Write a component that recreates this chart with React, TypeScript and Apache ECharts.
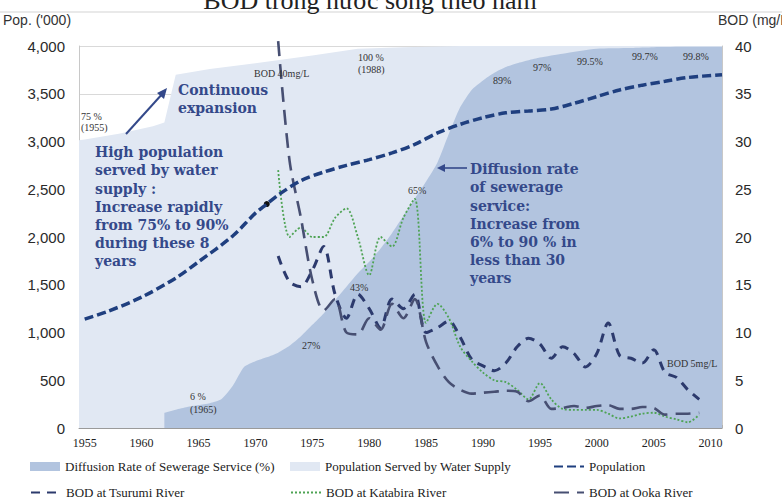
import React, { useEffect, useRef } from 'react';
import * as echarts from 'echarts';

// ---- data ----
const popYears = [1955, 1957, 1960, 1963, 1965, 1968, 1970, 1971, 1972, 1974, 1976, 1978, 1980, 1982, 1984, 1986, 1988, 1990, 1992, 1994, 1996, 1998, 2000, 2002, 2004, 2006, 2008, 2011];
const popValues = [1140, 1220, 1370, 1570, 1740, 2010, 2250, 2345, 2440, 2590, 2680, 2750, 2810, 2880, 2970, 3090, 3180, 3250, 3300, 3320, 3340, 3400, 3470, 3540, 3590, 3630, 3670, 3700];

const waterYears = [1954.5, 1955, 1958, 1961, 1962, 1963, 1966, 1970, 1975, 1979, 1983, 1988, 2011];
const waterPct = [75.3, 75.5, 77, 79, 80, 92.5, 94, 95.5, 97.5, 99.3, 99.7, 100, 100];

const sewerYears = [1962, 1963, 1964, 1965, 1966, 1967, 1968, 1969, 1970, 1971, 1972, 1973, 1974, 1975, 1976, 1977, 1978, 1979, 1980, 1981, 1982, 1983, 1984, 1985, 1986, 1987, 1988, 1989, 1990, 1991, 1992, 1993, 1994, 1995, 1997, 2000, 2003, 2005, 2008, 2011];
const sewerPct = [4, 4.8, 5.5, 6, 6.5, 7.5, 11, 16, 17.5, 18.5, 19.7, 21.5, 24, 27, 30, 33.5, 37, 40.5, 43.5, 47, 51, 55.5, 60, 64.5, 69.5, 77, 84, 88.5, 91, 93, 94.5, 95.5, 96.3, 97, 98, 99.3, 99.5, 99.7, 99.8, 99.8];

const bodYears = [1972, 1973, 1974, 1975, 1976, 1977, 1978, 1979, 1980, 1981, 1982, 1983, 1984, 1985, 1986, 1987, 1988, 1989, 1990, 1991, 1992, 1993, 1994, 1995, 1996, 1997, 1998, 1999, 2000, 2001, 2002, 2003, 2004, 2005, 2006, 2007, 2008, 2009];
const tsurumiBod = [18, 15.3, 14.8, 16.5, 19, 14, 11.5, 14, 12.5, 10.5, 13.5, 12.5, 14, 10, 10.5, 11.2, 9.5, 7.2, 6.5, 6.0, 6.8, 8.5, 9.4, 8.8, 7.3, 8.5, 7.8, 6.4, 7.8, 11.0, 7.6, 7.3, 6.8, 8.2, 5.8, 5.3, 4.0, 3.0];
const katabiraBod = [27, 20, 21, 20, 20, 22, 23, 20, 16, 20, 19, 22, 24, 11, 13, 11.5, 8.5, 7, 5.8, 5, 4.8, 4, 3, 4.7, 3, 2, 1.9, 1.9, 1.9, 1.5, 1.0, 1.2, 1.5, 1.6, 1.2, 0.9, 0.6, 1.4];
const ookaBod = [40.5, 28, 22, 15.5, 12.3, 13.5, 10, 9.8, 11.5, 10.3, 13, 11.5, 13.5, 9, 6.5, 4.8, 4.0, 3.6, 3.7, 3.8, 3.9, 3.8, 2.8, 3.4, 2.0, 2.1, 2.3, 2.1, 2.3, 2.4, 2.0, 2.0, 2.2, 2.1, 1.4, 1.5, 1.5, 1.6];

const NAME_SEWER = 'Diffusion Rate of Sewerage Service (%)';
const NAME_WATER = 'Population Served by Water Supply';
const NAME_POP = 'Population';
const NAME_TSU = 'BOD at Tsurumi River';
const NAME_KAT = 'BOD at Katabira River';
const NAME_OOKA = 'BOD at Ooka River';

const pairs = (xs: number[], ys: number[]) => xs.map((x, i) => [x, ys[i]]);

const SERIF = "'Liberation Serif', serif";
const SANS = "'Liberation Sans', sans-serif";
const BOLDSERIF = "'DejaVu Serif', serif";
const NOTE = '#34498a';

function smallText(x: number, y: number, text: string, lh = 12) {
  return {
    type: 'text', x, y, z: 100,
    style: { text, fill: '#333', fontFamily: SERIF, fontSize: 10, align: 'left', verticalAlign: 'top', lineHeight: lh },
  };
}
function boldNote(x: number, y: number, text: string) {
  return {
    type: 'text', x, y, z: 100,
    style: { text, fill: NOTE, fontFamily: BOLDSERIF, fontWeight: 'bold', fontSize: 14, align: 'left', verticalAlign: 'top', lineHeight: 18.2 },
  };
}

export default function App() {
  const ref = useRef<HTMLDivElement>(null);
  useEffect(() => {
    if (!ref.current) return;
    const chart = echarts.init(ref.current, null, { renderer: 'svg' });
    const legendBase = (left: number, top: number, name: string, extra: any = {}) => ({
      left, top, data: [name], itemWidth: 30, itemHeight: 10, itemGap: 0, padding: 0,
      textStyle: { fontFamily: SERIF, fontSize: 13, color: '#222' },
      selectedMode: false, ...extra,
    });
    const lineLegend = { itemStyle: { opacity: 0 } };
    chart.setOption({
      animation: false,
      backgroundColor: '#ffffff',
      grid: { left: 79, top: 46, width: 643, height: 382, containLabel: false },
      legend: [
        legendBase(30, 460, NAME_SEWER, { icon: 'rect', itemHeight: 9 }),
        legendBase(290, 460, NAME_WATER, { icon: 'rect', itemHeight: 9 }),
        legendBase(553, 460, NAME_POP, lineLegend),
        legendBase(30, 486, NAME_TSU, lineLegend),
        legendBase(290, 486, NAME_KAT, lineLegend),
        legendBase(553, 486, NAME_OOKA, lineLegend),
      ],
      xAxis: {
        type: 'value', min: 1954.5, max: 2011, splitNumber: 11,
        axisLine: { show: true, lineStyle: { color: '#9a9a9a' } },
        axisTick: { show: true, inside: true, length: 3, lineStyle: { color: '#b0b0b0' } },
        splitLine: { show: false },
        axisLabel: {
          fontFamily: SERIF, fontSize: 12, color: '#222', margin: 9,
          formatter: (v: number) => (Math.abs(v % 5) < 1e-9 ? String(v) : ''),
        },
      },
      yAxis: [
        {
          type: 'value', min: 0, max: 4000, interval: 500, position: 'left',
          axisLine: { show: true, lineStyle: { color: '#c8c8c8' } },
          axisTick: { show: false },
          splitLine: { show: true, lineStyle: { color: '#d9d9d9' } },
          axisLabel: {
            fontFamily: SANS, fontSize: 15, color: '#2a2a2a', margin: 14,
            formatter: (v: number) => v.toLocaleString('en-US'),
          },
        },
        {
          type: 'value', min: 0, max: 40, interval: 5, position: 'right',
          axisLine: { show: true, lineStyle: { color: '#c8c8c8' } },
          axisTick: { show: false },
          splitLine: { show: false },
          axisLabel: { fontFamily: SANS, fontSize: 15, color: '#2a2a2a', margin: 13 },
        },
        { type: 'value', min: 0, max: 100, show: false },
      ],
      series: [
        {
          name: NAME_WATER, type: 'line', yAxisIndex: 2, z: 1,
          data: pairs(waterYears, waterPct), symbol: 'none',
          lineStyle: { width: 0 }, itemStyle: { color: '#e1e8f3' },
          areaStyle: { color: '#e1e8f3', opacity: 1 },
        },
        {
          name: NAME_SEWER, type: 'line', yAxisIndex: 2, z: 2,
          data: pairs(sewerYears, sewerPct), symbol: 'none', smooth: 0.2,
          lineStyle: { width: 0 }, itemStyle: { color: '#b2c4df' },
          areaStyle: { color: '#b2c4df', opacity: 1 },
        },
        {
          name: NAME_POP, type: 'line', yAxisIndex: 0, z: 5,
          data: pairs(popYears, popValues), symbol: 'none', smooth: 0.3,
          itemStyle: { color: '#1f3f7f' },
          lineStyle: { color: '#1f3f7f', width: 3.5, type: [9, 4] },
          markPoint: {
            symbol: 'circle', symbolSize: 6, itemStyle: { color: '#111' }, label: { show: false },
            data: [{ coord: [1971, popValues[popYears.indexOf(1971)]] }],
          },
        },
        {
          name: NAME_TSU, type: 'line', yAxisIndex: 1, z: 4,
          data: pairs(bodYears, tsurumiBod), symbol: 'none', smooth: 0.3,
          itemStyle: { color: '#2c3a6d' },
          lineStyle: { color: '#2c3a6d', width: 3, type: [9, 7] },
        },
        {
          name: NAME_KAT, type: 'line', yAxisIndex: 1, z: 4,
          data: pairs(bodYears, katabiraBod), symbol: 'none', smooth: 0.3,
          itemStyle: { color: '#4ea354' },
          lineStyle: { color: '#4ea354', width: 1.8, type: [2, 2] },
        },
        {
          name: NAME_OOKA, type: 'line', yAxisIndex: 1, z: 4, clip: false,
          data: pairs(bodYears, ookaBod), symbol: 'none', smooth: 0.3,
          itemStyle: { color: '#474f72' },
          lineStyle: { color: '#474f72', width: 2.6, type: [15, 8] },
        },
      ],
      graphic: [
        {
          type: 'text', x: 370, y: 13, z: 100,
          style: { text: 'BOD trong nước sông theo năm', fill: '#222', fontFamily: SERIF, fontSize: 26, align: 'center', verticalAlign: 'bottom' },
        },
        { type: 'line', z: 99, shape: { x1: 0, y1: 12, x2: 782, y2: 12 }, style: { stroke: '#d3d3d3', lineWidth: 1 } },
        {
          type: 'text', x: 3, y: 13, z: 100,
          style: { text: "Pop. ('000)", fill: '#333', fontFamily: SANS, fontSize: 14, align: 'left', verticalAlign: 'top' },
        },
        {
          type: 'text', x: 718, y: 13, z: 100,
          style: { text: 'BOD (mg/L)', fill: '#333', fontFamily: SANS, fontSize: 14, align: 'left', verticalAlign: 'top' },
        },
        smallText(81, 111, '75 %\n(1955)', 11),
        smallText(254, 67, 'BOD 40mg/L'),
        smallText(358, 51, '100 %\n(1988)', 12),
        smallText(493, 74, '89%'),
        smallText(533, 61, '97%'),
        smallText(577, 55, '99.5%'),
        smallText(632, 50, '99.7%'),
        smallText(683, 50, '99.8%'),
        smallText(408, 184, '65%'),
        smallText(350, 281, '43%'),
        smallText(302, 339, '27%'),
        smallText(190, 390, '6 %\n(1965)', 13),
        smallText(667, 357, 'BOD 5mg/L'),
        boldNote(178, 81, 'Continuous\nexpansion'),
        boldNote(95, 143, 'High population\nserved by water\nsupply :\nIncrease rapidly\nfrom 75% to 90%\nduring these 8\nyears'),
        boldNote(470, 160, 'Diffusion rate\nof sewerage\nservice:\nIncrease from\n6% to 90 % in\nless than 30\nyears'),
        { type: 'line', z: 100, shape: { x1: 126, y1: 134, x2: 164, y2: 92 }, style: { stroke: NOTE, lineWidth: 2 } },
        { type: 'polygon', z: 100, shape: { points: [[167, 88], [157, 93], [164, 99]] }, style: { fill: NOTE } },
        { type: 'line', z: 100, shape: { x1: 467, y1: 168, x2: 442, y2: 168 }, style: { stroke: NOTE, lineWidth: 1.6 } },
        { type: 'polygon', z: 100, shape: { points: [[437, 168], [445, 164], [445, 172]] }, style: { fill: NOTE } },
      ],
    });
    return () => chart.dispose();
  }, []);
  return <div ref={ref} style={{ position: 'absolute', left: 0, top: 0, width: 782, height: 500 }} />;
}
